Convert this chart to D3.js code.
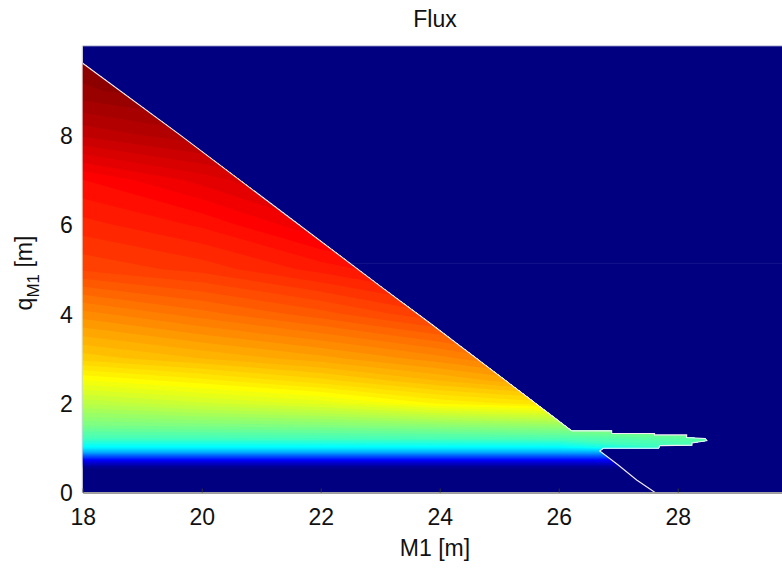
<!DOCTYPE html>
<html>
<head>
<meta charset="utf-8">
<script src="https://cdn.jsdelivr.net/npm/d3@7"></script>
<style>
  body { margin: 0; background: #fff; }
  text { font-family: "Liberation Sans", Arial, sans-serif; fill: #111; }
</style>
</head>
<body>
<div id="fluxDiv"></div>
<script>
// grid: columns are M1 [m], rows are q_M1 [m]
var m1Cols = [18, 20, 22, 24, 26, 28, 30];
var qRows  = [0, 0.5, 0.6, 0.7, 0.8, 0.9, 1.0, 1.2, 1.5, 2.0, 2.5, 3.0, 4.0, 5.0, 6.0, 7.0, 8.0, 9.0, 10.0];

// normalised flux (0 = bottom of colour scale, 1 = top), one list per column
var flux18 = [0, 0, 0.04, 0.11, 0.20, 0.30, 0.37, 0.445, 0.50, 0.565, 0.623, 0.68, 0.745, 0.815, 0.845, 0.875, 0.94, 0.985, 1.0];
var flux20 = [0, 0, 0.04, 0.11, 0.20, 0.30, 0.37, 0.445, 0.505, 0.585, 0.645, 0.70, 0.77, 0.83, 0.865, 0.905, 0.96, 1.0, 1.0];
var flux22 = [0, 0, 0.04, 0.11, 0.20, 0.30, 0.37, 0.447, 0.51, 0.605, 0.67, 0.72, 0.795, 0.855, 0.90, 0.94, 0.98, 1.0, 1.0];
var flux24 = [0, 0, 0.04, 0.11, 0.20, 0.30, 0.37, 0.45, 0.52, 0.64, 0.70, 0.745, 0.825, 0.88, 0.92, 0.96, 1.0, 1.0, 1.0];
var flux26 = [0, 0, 0.04, 0.11, 0.20, 0.30, 0.37, 0.455, 0.53, 0.66, 0.73, 0.78, 0.86, 0.91, 0.95, 0.98, 1.0, 1.0, 1.0];
var flux28 = [0, 0, 0.04, 0.11, 0.20, 0.30, 0.44, 0.47, 0.54, 0.66, 0.73, 0.78, 0.86, 0.91, 0.95, 0.98, 1.0, 1.0, 1.0];
var flux30 = [0, 0, 0.04, 0.11, 0.20, 0.30, 0.44, 0.47, 0.54, 0.66, 0.73, 0.78, 0.86, 0.91, 0.95, 0.98, 1.0, 1.0, 1.0];
var fluxCols = [flux18, flux20, flux22, flux24, flux26, flux28, flux30];

// edge of the valid region (M1, q)
var edgeTop = [[18, 9.61], [19.64, 8.0], [23.05, 4.57], [23.84, 3.79], [26.22, 1.38]];
var edgeTongue = [[26.89, 1.38], [26.89, 1.32], [27.61, 1.32], [27.61, 1.29], [28.15, 1.29], [28.15, 1.23],
                  [28.46, 1.21], [28.49, 1.16], [28.24, 1.11], [28.24, 1.06], [27.70, 1.05], [27.68, 0.99],
                  [26.75, 0.99], [26.69, 0.93], [27.0, 0.615], [27.31, 0.28], [27.62, 0]];
var seamQ = 5.13;

var xTicks = [18, 20, 22, 24, 26, 28];
var yTicks = [0, 2, 4, 6, 8];

var W = 782, H = 568;
var svg = d3.select("#fluxDiv").append("svg").attr("width", W).attr("height", H);

var x = d3.scaleLinear().domain([18, 29.85]).range([82.7, 787.8]);
var y = d3.scaleLinear().domain([0, 10]).range([492.5, 45.8]);

// jet colour map
function jet(v) {
    function c(t) { return Math.max(0, Math.min(1, t)); }
    var r = c(1.5 - Math.abs(4 * v - 3)), g = c(1.5 - Math.abs(4 * v - 2)), b = c(1.5 - Math.abs(4 * v - 1));
    return d3.rgb(r * 255, g * 255, b * 255) + "";
}

// plot background
svg.append("rect")
    .attr("x", x(18)).attr("y", y(10))
    .attr("width", W - x(18)).attr("height", y(0) - y(10))
    .attr("fill", jet(0));

// region clip
var regionPts = [[18, 0]].concat(edgeTop, edgeTongue);
var line = d3.line().x(function(d) { return x(d[0]); }).y(function(d) { return y(d[1]); });
svg.append("clipPath").attr("id", "region")
    .append("path").attr("d", line(regionPts) + "Z");

// contour bands
var n = m1Cols.length, m = qRows.length;
var values = new Array(n * m);
for (var j = 0; j < m; j++)
    for (var i = 0; i < n; i++)
        values[i + j * n] = fluxCols[i][j];

var colIdx = d3.scaleLinear().domain(m1Cols.map(function(d, i) { return i + 0.5; })).range(m1Cols);
var rowIdx = d3.scaleLinear().domain(qRows.map(function(d, i) { return i + 0.5; })).range(qRows);
var proj = d3.geoTransform({
    point: function(px, py) { this.stream.point(x(colIdx(px)), y(rowIdx(py))); }
});
var path = d3.geoPath(proj);

var levels = d3.range(0, 1, 0.0125);
var bands = d3.contours().size([n, m]).thresholds(levels)(values);

svg.append("g")
    .attr("clip-path", "url(#region)")
    .selectAll("path")
    .data(bands)
    .enter().append("path")
    .attr("d", path)
    .attr("fill", function(d) { return jet(d.value); });

// faint seam in the empty area
svg.append("line")
    .attr("x1", x(22.45)).attr("x2", W)
    .attr("y1", y(seamQ)).attr("y2", y(seamQ))
    .attr("stroke", "#ffffff").attr("stroke-opacity", 0.08);

// white outline of the region
svg.append("path")
    .attr("d", line(edgeTop.concat(edgeTongue)))
    .attr("fill", "none")
    .attr("stroke", "#f4eef4")
    .attr("stroke-width", 1.1);

// frame
svg.append("line").attr("x1", x(18)).attr("x2", W).attr("y1", y(10)).attr("y2", y(10))
    .attr("stroke", "#d4d4e4");
svg.append("line").attr("x1", x(18) - 0.5).attr("x2", x(18) - 0.5).attr("y1", y(10)).attr("y2", y(0))
    .attr("stroke", "#d8d8d8");

// axes
var xAxis = svg.append("g")
    .attr("transform", "translate(0," + y(0) + ")")
    .call(d3.axisBottom(x).tickValues(xTicks).tickSizeInner(-4).tickSizeOuter(0).tickPadding(16)
        .tickFormat(d3.format("d")));
xAxis.select(".domain").attr("stroke", "#a0a0a0").attr("stroke-width", 2);
xAxis.selectAll(".tick line").attr("stroke", "#333");
xAxis.selectAll("text").style("font-size", "23px").attr("fill", "#111");

var yAxis = svg.append("g")
    .attr("transform", "translate(" + x(18) + ",0)")
    .call(d3.axisLeft(y).tickValues(yTicks).tickSize(0).tickPadding(10).tickFormat(d3.format("d")));
yAxis.select(".domain").remove();
yAxis.selectAll("text").style("font-size", "23px").attr("fill", "#111").attr("dy", "0.36em");

// title and labels
svg.append("text")
    .attr("x", 435).attr("y", 27)
    .attr("text-anchor", "middle")
    .style("font-size", "23px")
    .text("Flux");

svg.append("text")
    .attr("x", 435).attr("y", 556)
    .attr("text-anchor", "middle")
    .style("font-size", "23px")
    .text("M1 [m]");

var yLabel = svg.append("text")
    .attr("transform", "translate(32,273) rotate(-90)")
    .attr("text-anchor", "middle")
    .style("font-size", "23px");
yLabel.append("tspan").text("q");
yLabel.append("tspan").attr("dy", 7).style("font-size", "17px").text("M1");
yLabel.append("tspan").attr("dy", -7).text(" [m]");
</script>
</body>
</html>
